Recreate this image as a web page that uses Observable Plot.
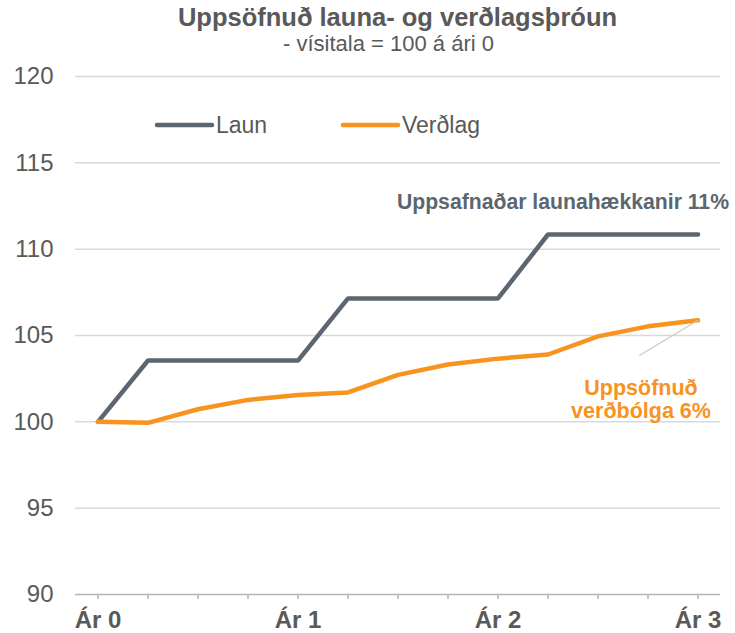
<!DOCTYPE html>
<html>
<head>
<meta charset="utf-8">
<script src="https://cdn.jsdelivr.net/npm/d3@7"></script>
<script src="https://cdn.jsdelivr.net/npm/@observablehq/plot@0.6"></script>
<style>
  body { margin: 0; background: #fff; font-family: "Liberation Sans", Arial, sans-serif; }
  #wrap { position: relative; width: 735px; height: 633px; overflow: hidden; }
  #chart { position: absolute; left: 0; top: 0; }
  .title { position: absolute; text-align: center; color: #595959; white-space: nowrap; }
  #t1 { left: 75px; width: 645px; top: 3px; font-size: 25.5px; font-weight: bold; }
  #t2 { left: 66px; width: 645px; top: 31px; font-size: 22px; }
  #legend { position: absolute; left: 0; top: 0; width: 735px; height: 633px; pointer-events: none; }
</style>
</head>
<body>
<div id="wrap">
  <div id="chart"></div>
  <div class="title" id="t1">Uppsöfnuð launa- og verðlagsþróun</div>
  <div class="title" id="t2">- vísitala = 100 á ári 0</div>
</div>
<script>
// ---- data ----
const periods = [0,1,2,3,4,5,6,7,8,9,10,11,12];
const periodLabels = ["Ár 0","","","","Ár 1","","","","Ár 2","","","","Ár 3"];
const laun =    [100, 103.55, 103.55, 103.55, 103.55, 107.15, 107.15, 107.15, 107.15, 110.85, 110.85, 110.85, 110.85];
const verdlag = [100, 99.94, 100.73, 101.27, 101.56, 101.7, 102.72, 103.32, 103.66, 103.9, 104.95, 105.53, 105.88];
const yTicks = [90, 95, 100, 105, 110, 115, 120];
const seriesNames = ["Laun", "Verðlag"];
const seriesColors = ["#5b6670", "#f7931e"];
const noteLaun = "Uppsafnaðar launahækkanir 11%";
const noteVerdlag = ["Uppsöfnuð", "verðbólga 6%"];

const rows = [];
periods.forEach((p, i) => {
  rows.push({period: p, value: laun[i], series: seriesNames[0]});
  rows.push({period: p, value: verdlag[i], series: seriesNames[1]});
});
const last = periods.length - 1;
const lastLaun = [{period: periods[last], value: laun[last]}];
const lastVerd = [{period: periods[last], value: verdlag[last]}];
const labelTicks = periods.filter((p, i) => periodLabels[i] !== "");

const textColor = "#595959";
const chart = Plot.plot({
  width: 735,
  height: 633,
  marginTop: 76,
  marginBottom: 39,
  marginLeft: 75,
  marginRight: 15,
  style: { fontFamily: "Liberation Sans, Arial, sans-serif", background: "#fff", overflow: "visible" },
  x: { domain: [-0.45, 12.45], axis: null },
  y: { domain: [90, 120], axis: null },
  color: { domain: seriesNames, range: seriesColors },
  marks: [
    Plot.gridY(yTicks.filter(d => d > 90), { stroke: "#d9d9d9", strokeOpacity: 1, strokeWidth: 1.5 }),
    Plot.axisY(yTicks, { tickSize: 0, tickPadding: 22, fontSize: 24, fill: textColor, label: null }),
    Plot.ruleY([90], { stroke: "#b3b3b3", strokeWidth: 1.5 }),
    Plot.axisX(periods, { tickSize: 5, stroke: "#b3b3b3", strokeWidth: 1.5, tickFormat: () => "", label: null }),
    Plot.axisX(labelTicks, { tickSize: 0, tickPadding: 16, tickFormat: d => periodLabels[d], fontSize: 24, fontWeight: "bold", fill: textColor, label: null }),
    Plot.line(rows, { x: "period", y: "value", z: "series", stroke: "series", strokeWidth: 4.5, strokeLinejoin: "miter", strokeLinecap: "round" }),
    Plot.vector(lastVerd, { x: "period", y: "value", length: 68, rotate: 239, anchor: "start", stroke: "#c8c8c8", strokeWidth: 1.2,
      shape: { draw(ctx, l) { ctx.moveTo(0, 0); ctx.lineTo(0, -l); } } }),
    Plot.text(lastLaun, { x: "period", y: "value", text: () => noteLaun, textAnchor: "end", dx: 31, dy: -32, fontSize: 21.2, fontWeight: "bold", fill: seriesColors[0] }),
    Plot.text(lastVerd, { x: "period", y: "value", text: () => noteVerdlag.join("\n"), textAnchor: "middle", dx: -57, dy: 79, lineHeight: 1.08, fontSize: 21.5, fontWeight: "bold", fill: seriesColors[1] })
  ]
});
document.getElementById("chart").appendChild(chart);

// legend (inside plot area, top left)
const svgNS = "http://www.w3.org/2000/svg";
const leg = document.createElementNS(svgNS, "svg");
leg.setAttribute("id", "legend");
leg.setAttribute("width", 735);
leg.setAttribute("height", 633);
const legItems = [{x: 157, name: seriesNames[0], color: seriesColors[0]}, {x: 343, name: seriesNames[1], color: seriesColors[1]}];
legItems.forEach(it => {
  const ln = document.createElementNS(svgNS, "line");
  ln.setAttribute("x1", it.x); ln.setAttribute("x2", it.x + 55);
  ln.setAttribute("y1", 125); ln.setAttribute("y2", 125);
  ln.setAttribute("stroke", it.color); ln.setAttribute("stroke-width", 4.5); ln.setAttribute("stroke-linecap", "round");
  leg.appendChild(ln);
  const tx = document.createElementNS(svgNS, "text");
  tx.setAttribute("x", it.x + 59); tx.setAttribute("y", 125);
  tx.setAttribute("dominant-baseline", "central");
  tx.setAttribute("font-size", 23);
  tx.setAttribute("font-family", "Liberation Sans, Arial, sans-serif");
  tx.setAttribute("fill", textColor);
  tx.textContent = it.name;
  leg.appendChild(tx);
});
document.getElementById("wrap").appendChild(leg);
</script>
</body>
</html>
